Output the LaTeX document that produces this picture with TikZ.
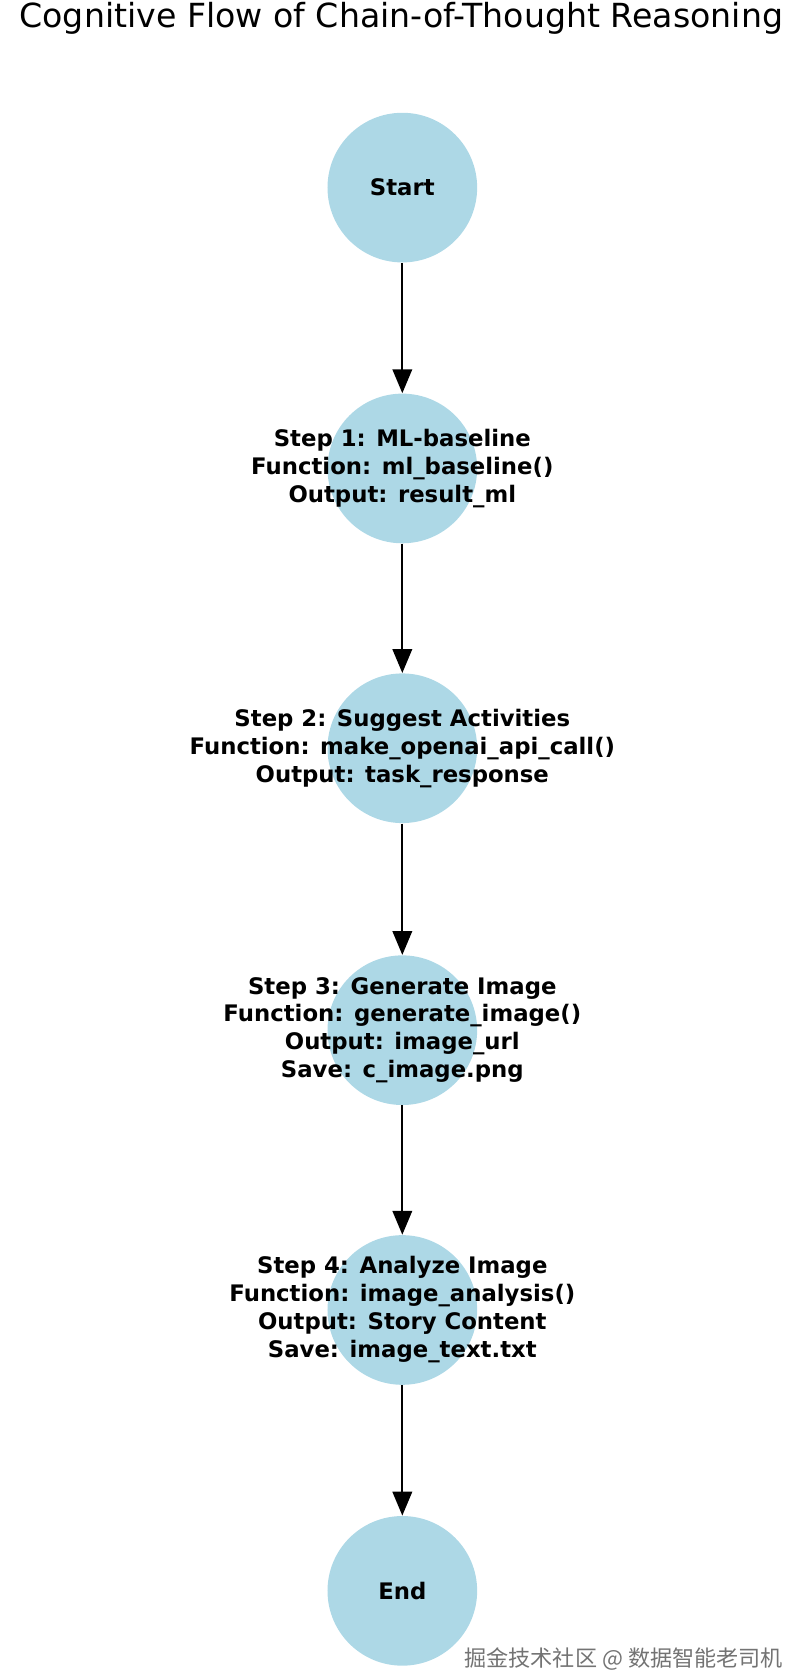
\documentclass[tikz,border=0pt]{standalone}
\usepackage{fontspec}
\setmainfont{DejaVu Sans}
\newfontfamily\cjk{Noto Sans CJK SC}
\usetikzlibrary{positioning,arrows.meta}
\definecolor{stepblue}{RGB}{173,216,230}
\tikzset{
  stepnode/.style={circle, fill=stepblue, minimum size=69pt, inner sep=0pt},
  steptext/.style={align=center, font=\fontsize{10.5}{12.9}\selectfont\bfseries},
  flow/.style={-{Triangle[length=11pt,width=9pt]}, line width=0.9pt}
}
\begin{document}
\begin{tikzpicture}[x=0.5pt,y=-0.5pt,>=stealth]
		\useasboundingbox (0,0) rectangle (740,1540);
		% Title
		\node[font=\fontsize{15.3}{17}\selectfont] (title) at (370,17) {Cognitive Flow of Chain-of-Thought Reasoning};
		
		% Steps
		\node[stepnode, label={[steptext]center:Start}] (start) at (371,173) {};
		\node[stepnode, label={[steptext]center:Step 1: ML-baseline\\Function: ml\_baseline()\\Output: result\_ml}] (s1) at (371,432) {};
		\node[stepnode, label={[steptext]center:Step 2: Suggest Activities\\Function: make\_openai\_api\_call()\\Output: task\_response}] (s2) at (371,690) {};
		\node[stepnode, label={[steptext]center:Step 3: Generate Image\\Function: generate\_image()\\Output: image\_url\\Save: c\_image.png}] (s3) at (371,950) {};
		\node[stepnode, label={[steptext]center:Step 4: Analyze Image\\Function: image\_analysis()\\Output: Story Content\\Save: image\_text.txt}] (s4) at (371,1208) {};
		\node[stepnode, label={[steptext]center:End}] (end) at (371,1467) {};
		
		% Edges
		\draw[flow] (start) -- (s1);
		\draw[flow] (s1) -- (s2);
		\draw[flow] (s2) -- (s3);
		\draw[flow] (s3) -- (s4);
		\draw[flow] (s4) -- (end);
		
		% Watermark
		\node[anchor=east, text=black!55, font=\cjk\fontsize{10.2}{11}\selectfont] (mark) at (729,1530) {掘金技术社区 @ 数据智能老司机};
	\end{tikzpicture}
\end{document}
